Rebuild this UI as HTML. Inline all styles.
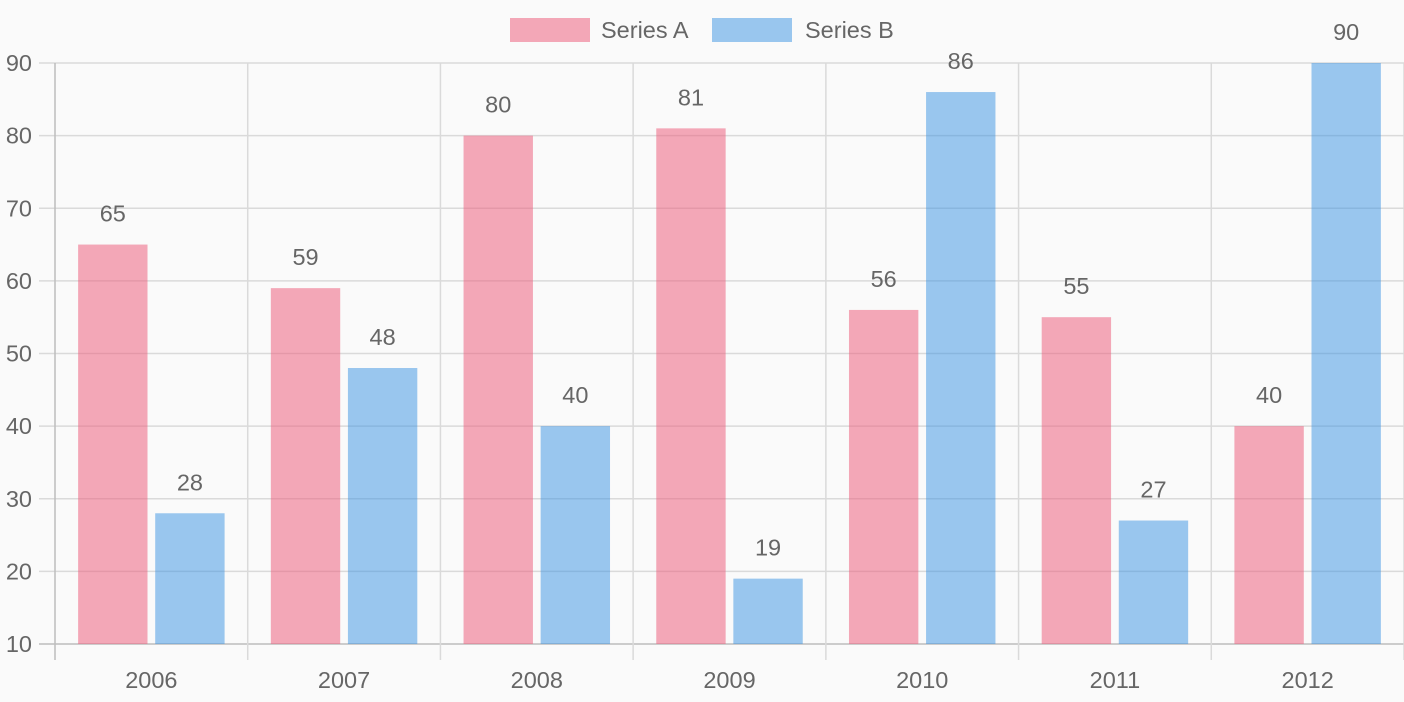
<!DOCTYPE html>
<html><head><meta charset="utf-8"><style>
html,body{margin:0;padding:0;background:#fafafa;}
svg{display:block;font-family:"Liberation Sans",Arial,sans-serif;}
</style></head><body>
<svg id="chart" width="1404" height="702" viewBox="0 0 1404 702"></svg>
<script>
const categories=["2006","2007","2008","2009","2010","2011","2012"];
const seriesA=[65,59,80,81,56,55,40];
const seriesB=[28,48,40,19,86,27,90];
const yTicks=[10,20,30,40,50,60,70,80,90];
const seriesNames=["Series A","Series B"];

const NS="http://www.w3.org/2000/svg";
const svg=document.getElementById('chart');
const L=55,R=1404,T=63,B=644,yMin=10,yMax=90;
const y=v=>B-(v-yMin)/(yMax-yMin)*(B-T);
const cw=(R-L)/categories.length;
const x=i=>L+i*cw;
const FS=23.5;
function mk(t,a,txt){const e=document.createElementNS(NS,t);for(const k in a)e.setAttribute(k,a[k]);if(txt!==undefined)e.textContent=txt;svg.appendChild(e);return e;}

yTicks.forEach(v=>{
  const l=mk('line',{x1:39,x2:R,y1:y(v),y2:y(v),stroke:v===yMin?'#bdbdbd':'#dadada','stroke-width':1.5});
  
  
  const t=mk('text',{x:32,y:y(v)+8,'text-anchor':'end','font-size':FS,fill:'#666'},v);
  
  
});
for(let i=0;i<=categories.length;i++){
  const l=mk('line',{x1:x(i),x2:x(i),y1:T,y2:660,stroke:i===0?'#bdbdbd':'#dadada','stroke-width':1.5});
  
  
}
const bw=cw*0.8*0.5*0.9;
const colors=['rgba(236,98,128,0.55)','rgba(55,145,225,0.5)'];
[seriesA,seriesB].forEach((s,si)=>{
  s.forEach((v,i)=>{
    const cx=x(i)+cw*0.1+cw*0.4*si+cw*0.4/2;
    const r=mk('rect',{x:cx-bw/2,y:y(v),width:bw,height:B-y(v),fill:colors[si]});
    
    
    const t=mk('text',{x:cx,y:y(v)-23,'text-anchor':'middle','font-size':FS,fill:'#666'},v);
    
    
  });
});
categories.forEach((c,i)=>{
  const t=mk('text',{x:x(i)+cw/2,y:688,'text-anchor':'middle','font-size':FS,fill:'#666'},c);
  
  
});
const lg=[{x:510,tx:601},{x:712,tx:805}];
lg.forEach((p,i)=>{
  const r=mk('rect',{x:p.x,y:18,width:80,height:24,fill:colors[i]});
  
  
  const t=mk('text',{x:p.tx,y:38,'font-size':FS,fill:'#666'},seriesNames[i]);
  
  
});
</script>
</body></html>
